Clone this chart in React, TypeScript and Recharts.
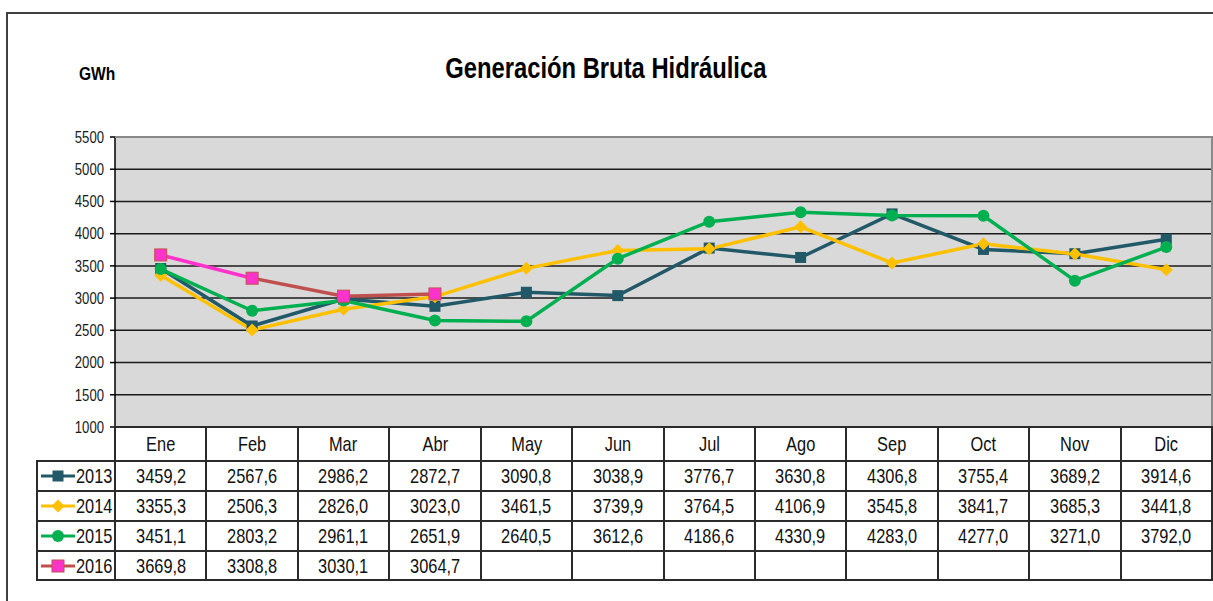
import React from 'react';
import { LineChart, Line, XAxis, YAxis, CartesianGrid } from 'recharts';

const months = ['Ene', 'Feb', 'Mar', 'Abr', 'May', 'Jun', 'Jul', 'Ago', 'Sep', 'Oct', 'Nov', 'Dic'];
const yTicks = [1000, 1500, 2000, 2500, 3000, 3500, 4000, 4500, 5000, 5500];

const v2013 = [3459.2, 2567.6, 2986.2, 2872.7, 3090.8, 3038.9, 3776.7, 3630.8, 4306.8, 3755.4, 3689.2, 3914.6];
const v2014 = [3355.3, 2506.3, 2826.0, 3023.0, 3461.5, 3739.9, 3764.5, 4106.9, 3545.8, 3841.7, 3685.3, 3441.8];
const v2015 = [3451.1, 2803.2, 2961.1, 2651.9, 2640.5, 3612.6, 4186.6, 4330.9, 4283.0, 4277.0, 3271.0, 3792.0];
const v2016 = [3669.8, 3308.8, 3030.1, 3064.7];

const series = [
  { key: 'y2013', name: '2013', values: v2013, color: '#215968', shape: 'square' },
  { key: 'y2014', name: '2014', values: v2014, color: '#FFC000', shape: 'diamond' },
  { key: 'y2015', name: '2015', values: v2015, color: '#00B050', shape: 'circle' },
  { key: 'y2016', name: '2016', values: v2016, color: '#C0504D', shape: 'pink' },
];

const data = months.map((m, i) => {
  const row: Record<string, any> = { month: m };
  series.forEach((s) => {
    row[s.key] = i < s.values.length ? s.values[i] : null;
  });
  return row;
});

// no narrow font installed, so squeeze Liberation Sans horizontally
const FONT = '"Liberation Sans", Arial, sans-serif';
const SQ = 0.82;
const PLOT_L = 115;
const PLOT_R = 1212;
const COL_W = (PLOT_R - PLOT_L) / 12;
const ROW_Y = [427, 461, 491, 521, 551, 580];
const LINE = '#2b2b2b';

function marker(shape: string, color: string, cx: number, cy: number, key?: any) {
  if (shape === 'square') {
    return <rect key={key} x={cx - 5.5} y={cy - 5.5} width={11} height={11} fill={color} />;
  }
  if (shape === 'diamond') {
    return <path key={key} d={`M${cx},${cy - 6.5}L${cx + 6.5},${cy}L${cx},${cy + 6.5}L${cx - 6.5},${cy}Z`} fill={color} />;
  }
  if (shape === 'circle') {
    return <circle key={key} cx={cx} cy={cy} r={6} fill={color} />;
  }
  return <rect key={key} x={cx - 6} y={cy - 6} width={12} height={12} fill="#FF33CC" stroke="#C0504D" strokeWidth={1} />;
}

const dotFor = (shape: string, color: string) => (p: any) => {
  if (p.cy == null || p.value == null) return <g key={p.index} />;
  return marker(shape, color, p.cx, p.cy, p.index);
};

const fmt = (v: number) => v.toFixed(1).replace('.', ',');

const Narrow = ({ children, origin = 'center', k = SQ }: { children: React.ReactNode; origin?: string; k?: number }) => (
  <span style={{ display: 'inline-block', transform: `scaleX(${k})`, transformOrigin: origin, whiteSpace: 'nowrap' }}>{children}</span>
);

function YTick(props: any) {
  const { x, y, payload } = props;
  return (
    <g transform={`translate(${x},${y}) scale(${SQ},1)`}>
      <text x={0} y={0} dy="0.36em" textAnchor="end" fontSize={16} fontFamily={FONT} fill="#1a1a1a">
        {payload.value}
      </text>
    </g>
  );
}

function LegendKey({ shape, color }: { shape: string; color: string }) {
  return (
    <svg width={34} height={14} style={{ display: 'block', flex: 'none' }}>
      <line x1={0} y1={7} x2={34} y2={7} stroke={color} strokeWidth={3} />
      {marker(shape, color, 17, 7)}
    </svg>
  );
}

function DataTable() {
  const els: React.ReactNode[] = [];
  ROW_Y.forEach((y, i) => {
    const left = i === 0 ? PLOT_L : 37;
    els.push(
      <div key={`h${i}`} style={{ position: 'absolute', left: left - 1, top: y - 1, width: PLOT_R - left + 2, height: 2, background: LINE }} />
    );
  });
  els.push(<div key="vl" style={{ position: 'absolute', left: 36, top: ROW_Y[1] - 1, width: 2, height: ROW_Y[5] - ROW_Y[1] + 2, background: LINE }} />);
  for (let i = 0; i <= 12; i++) {
    const x = PLOT_L + i * COL_W;
    els.push(<div key={`v${i}`} style={{ position: 'absolute', left: x - 1, top: ROW_Y[0] - 1, width: 2, height: ROW_Y[5] - ROW_Y[0] + 2, background: LINE }} />);
  }
  const cellStyle = (left: number, top: number, width: number, height: number): React.CSSProperties => ({
    position: 'absolute', left, top, width, height, display: 'flex', alignItems: 'center', justifyContent: 'center',
    fontFamily: FONT, fontSize: 21, color: '#111', whiteSpace: 'nowrap',
  });
  months.forEach((m, i) => {
    els.push(<div key={`m${i}`} style={cellStyle(PLOT_L + i * COL_W, ROW_Y[0], COL_W, ROW_Y[1] - ROW_Y[0])}><Narrow k={0.78}>{m}</Narrow></div>);
  });
  series.forEach((s, r) => {
    const top = ROW_Y[r + 1];
    const h = ROW_Y[r + 2] - top;
    els.push(
      <div key={`l${r}`} style={{ ...cellStyle(38, top, 77, h), justifyContent: 'flex-start', gap: 1, paddingLeft: 3, boxSizing: 'border-box' }}>
        <LegendKey shape={s.shape} color={s.color} />
        <Narrow origin="left" k={0.78}>{s.name}</Narrow>
      </div>
    );
    s.values.forEach((v, i) => {
      els.push(<div key={`c${r}-${i}`} style={cellStyle(PLOT_L + i * COL_W, top, COL_W, h)}><Narrow k={0.78}>{fmt(v)}</Narrow></div>);
    });
  });
  return <>{els}</>;
}

export default function App() {
  return (
    <div style={{ position: 'absolute', left: 0, top: 0, width: 1213, height: 601, overflow: 'hidden', background: '#fff' }}>
      <div style={{ position: 'absolute', left: 6, top: 12, width: 1300, height: 700, border: '2px solid #404040' }} />
      <div style={{ position: 'absolute', left: 0, top: 0 }}>
        <LineChart width={1213} height={601} data={data} margin={{ top: 137, right: 1, bottom: 174, left: 0 }}>
          <defs>
            <linearGradient id="g2016" x1="0" y1="0" x2="1" y2="0">
              <stop offset="0" stopColor="#FF33CC" />
              <stop offset="0.3333" stopColor="#FF33CC" />
              <stop offset="0.3333" stopColor="#C0504D" />
              <stop offset="1" stopColor="#C0504D" />
            </linearGradient>
          </defs>
          <CartesianGrid vertical={false} fill="#D9D9D9" stroke="#1a1a1a" strokeWidth={1.5} fillOpacity={1} />
          <XAxis dataKey="month" hide padding={{ left: COL_W / 2, right: COL_W / 2 }} />
          <YAxis
            width={115}
            domain={[1000, 5500]}
            ticks={yTicks}
            interval={0}
            axisLine={{ stroke: '#000', strokeWidth: 1.5 }}
            tickLine={{ stroke: '#000', strokeWidth: 1.5 }}
            tickSize={5}
            tickMargin={6}
            tick={<YTick />}
          />
          {series.map((s) => (
            <Line
              key={s.key}
              dataKey={s.key}
              name={s.name}
              stroke={s.key === 'y2016' ? 'url(#g2016)' : s.color}
              strokeWidth={3.5}
              dot={dotFor(s.shape, s.color)}
              activeDot={false}
              isAnimationActive={false}
              connectNulls={false}
            />
          ))}
        </LineChart>
      </div>
      <div style={{ position: 'absolute', left: PLOT_L, top: 136, width: PLOT_R - PLOT_L, height: 2, background: '#8a8a8a' }} />
      <div style={{ position: 'absolute', left: PLOT_R - 1, top: 136, width: 2, height: 292, background: '#8a8a8a' }} />
      <DataTable />
      <div style={{ position: 'absolute', left: 0, width: 1211, top: 52, textAlign: 'center', fontFamily: FONT, fontWeight: 'bold', fontSize: 29, color: '#000' }}>
        <Narrow>Generación Bruta Hidráulica</Narrow>
      </div>
      <div style={{ position: 'absolute', left: 79, top: 63, fontFamily: FONT, fontWeight: 'bold', fontSize: 19, color: '#000' }}>
        <Narrow origin="left">GWh</Narrow>
      </div>
    </div>
  );
}
